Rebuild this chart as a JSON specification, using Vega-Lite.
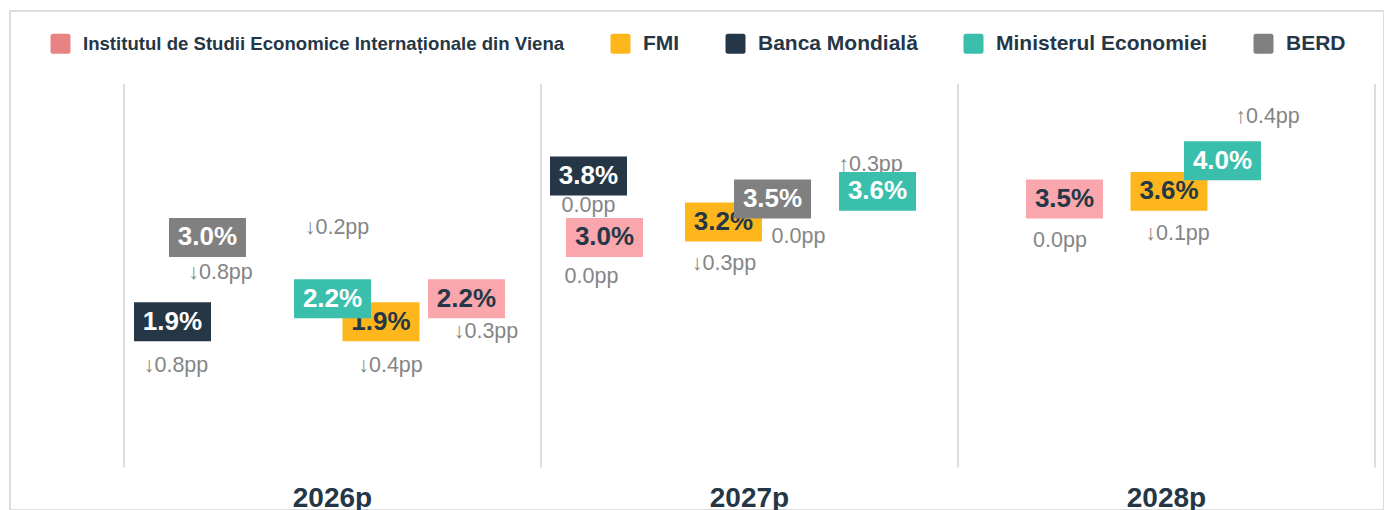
{
  "$schema": "https://vega.github.io/schema/vega-lite/v6.json",
  "width": 1374,
  "height": 499,
  "autosize": {"type": "none"},
  "padding": {"left": 10, "top": 11, "right": 0, "bottom": 0},
  "background": "white",
  "config": {
    "view": {"stroke": "#dddddd", "strokeWidth": 2},
    "font": "Liberation Sans",
    "legend": {
      "orient": "none", "legendX": 40, "legendY": 22, "direction": "horizontal", "columns": 5,
      "symbolType": "M-0.75,-1H0.75Q1,-1,1,-0.75V0.75Q1,1,0.75,1H-0.75Q-1,1,-1,0.75V-0.75Q-1,-1,-0.75,-1Z",
      "symbolSize": 400, "symbolStrokeWidth": 0, "symbolOpacity": 1,
      "labelFont": "Liberation Sans", "labelFontSize": 21, "labelFontWeight": "bold", "labelColor": "#253746",
      "labelLimit": 700, "labelOffset": 12, "columnPadding": 45, "padding": 0
    }
  },
  "data": {
    "values": [
      {"year": "2026p", "source": "Institutul de Studii Economice Internaționale din Viena", "value": 2.2, "j": 0.8213, "delta": "↓0.3pp", "dj": 0.8681, "dv": 1.767},
      {"year": "2026p", "source": "FMI", "value": 1.9, "j": 0.6163, "delta": "↓0.4pp", "dj": 0.6391, "dv": 1.323},
      {"year": "2026p", "source": "Banca Mondială", "value": 1.9, "j": 0.1163, "delta": "↓0.8pp", "dj": 0.1247, "dv": 1.323},
      {"year": "2026p", "source": "Ministerul Economiei", "value": 2.2, "j": 0.5, "delta": "↓0.2pp", "dj": 0.5108, "dv": 3.123},
      {"year": "2026p", "source": "BERD", "value": 3.0, "j": 0.2002, "delta": "↓0.8pp", "dj": 0.2314, "dv": 2.536},
      {"year": "2027p", "source": "Institutul de Studii Economice Internaționale din Viena", "value": 3.0, "j": 0.1523, "delta": "0.0pp", "dj": 0.1211, "dv": 2.484},
      {"year": "2027p", "source": "FMI", "value": 3.2, "j": 0.4376, "delta": "↓0.3pp", "dj": 0.4388, "dv": 2.653},
      {"year": "2027p", "source": "Banca Mondială", "value": 3.8, "j": 0.1139, "delta": "0.0pp", "dj": 0.1139, "dv": 3.403},
      {"year": "2027p", "source": "Ministerul Economiei", "value": 3.6, "j": 0.807, "delta": "↑0.3pp", "dj": 0.7902, "dv": 3.944},
      {"year": "2027p", "source": "BERD", "value": 3.5, "j": 0.5552, "delta": "0.0pp", "dj": 0.6175, "dv": 2.999},
      {"year": "2028p", "source": "Institutul de Studii Economice Internaționale din Viena", "value": 3.5, "j": 0.2554, "delta": "0.0pp", "dj": 0.2446, "dv": 2.953},
      {"year": "2028p", "source": "FMI", "value": 3.6, "j": 0.506, "delta": "↓0.1pp", "dj": 0.5264, "dv": 3.038},
      {"year": "2028p", "source": "Ministerul Economiei", "value": 4.0, "j": 0.6343, "delta": "↑0.4pp", "dj": 0.7422, "dv": 4.576}
    ]
  },
  "transform": [{"calculate": "format(datum.value, '.1f') + '%'", "as": "lbl"}],
  "encoding": {
    "x": {
      "field": "year", "type": "nominal",
      "scale": {"type": "band", "domain": ["2026p", "2027p", "2028p"], "range": [114, 1365], "paddingInner": 0, "paddingOuter": 0},
      "axis": {"orient": "bottom", "offset": -42.5, "domain": false, "ticks": false, "tickSize": 0, "grid": false, "labelPadding": 17, "labelFontSize": 28, "labelFontWeight": "bold", "labelColor": "#253746", "labelFont": "Liberation Sans", "labelAngle": 0, "title": null}
    },
    "stroke": {
      "field": "source", "type": "nominal",
      "scale": {"domain": ["Institutul de Studii Economice Internaționale din Viena", "FMI", "Banca Mondială", "Ministerul Economiei", "BERD"], "range": ["#E88383", "#FDB71C", "#253746", "#3BBFAD", "#808080"]},
      "legend": {"title": null, "encoding": {
        "labels": {"fontSize": {"value": {"expr": "datum.value === 'Institutul de Studii Economice Internaționale din Viena' ? 18.6 : 21"}}},
        "symbols": {"fill": {"value": {"expr": "scale('stroke', datum.value)"}}}
      }}
    }
  },
  "layer": [
    {
      "data": {"values": [{"year": "2026p"}, {"year": "2027p"}, {"year": "2028p"}]},
      "mark": {"type": "rule", "strokeWidth": 2},
      "encoding": {
        "x": {"field": "year", "type": "nominal", "bandPosition": 0},
        "y": {"datum": 0, "type": "quantitative", "scale": {"domain": [0, 5], "range": [456.5, 73]}, "axis": null},
        "y2": {"datum": 5},
        "stroke": {"value": "#dddddd"}
      }
    },
    {
      "data": {"values": [{"year": "2028p"}]},
      "mark": {"type": "rule", "strokeWidth": 2},
      "encoding": {
        "x": {"field": "year", "type": "nominal", "bandPosition": 1},
        "y": {"datum": 0, "type": "quantitative", "scale": {"domain": [0, 5], "range": [456.5, 73]}, "axis": null},
        "y2": {"datum": 5},
        "stroke": {"value": "#dddddd"}
      }
    },
    {
      "mark": {"type": "text", "fontSize": 21.5, "font": "Liberation Sans", "align": "center", "baseline": "middle", "fill": "#858585"},
      "encoding": {
        "xOffset": {"field": "dj", "type": "quantitative", "scale": {"domain": [0, 1]}},
        "y": {"field": "dv", "type": "quantitative", "scale": {"domain": [0, 5], "range": [456.5, 73]}, "axis": null},
        "text": {"field": "delta"},
        "stroke": {"value": null}
      }
    },
    {
      "transform": [{"filter": {"field": "source", "equal": "Institutul de Studii Economice Internaționale din Viena"}}],
      "encoding": {
        "xOffset": {"field": "j", "type": "quantitative", "scale": {"domain": [0, 1]}},
        "y": {"field": "value", "type": "quantitative", "scale": {"domain": [0, 5], "range": [456.5, 73]}, "axis": null}
      },
      "layer": [
        {"mark": {"type": "point", "shape": "M-1,-0.506H1V0.506H-1Z", "size": 5929, "filled": true, "fill": "#F9A7AD", "opacity": 1, "strokeWidth": 0}},
        {"mark": {"type": "text", "fontSize": 26, "fontWeight": "bold", "font": "Liberation Sans", "align": "center", "baseline": "middle", "fill": "#253746"},
         "encoding": {"text": {"field": "lbl"}, "stroke": {"value": null}}}
      ]
    },
    {
      "transform": [{"filter": {"field": "source", "equal": "FMI"}}],
      "encoding": {
        "xOffset": {"field": "j", "type": "quantitative", "scale": {"domain": [0, 1]}},
        "y": {"field": "value", "type": "quantitative", "scale": {"domain": [0, 5], "range": [456.5, 73]}, "axis": null}
      },
      "layer": [
        {"mark": {"type": "point", "shape": "M-1,-0.506H1V0.506H-1Z", "size": 5929, "filled": true, "fill": "#FDB71C", "opacity": 1, "strokeWidth": 0}},
        {"mark": {"type": "text", "fontSize": 26, "fontWeight": "bold", "font": "Liberation Sans", "align": "center", "baseline": "middle", "fill": "#253746"},
         "encoding": {"text": {"field": "lbl"}, "stroke": {"value": null}}}
      ]
    },
    {
      "transform": [{"filter": {"field": "source", "equal": "Banca Mondială"}}],
      "encoding": {
        "xOffset": {"field": "j", "type": "quantitative", "scale": {"domain": [0, 1]}},
        "y": {"field": "value", "type": "quantitative", "scale": {"domain": [0, 5], "range": [456.5, 73]}, "axis": null}
      },
      "layer": [
        {"mark": {"type": "point", "shape": "M-1,-0.506H1V0.506H-1Z", "size": 5929, "filled": true, "fill": "#253746", "opacity": 1, "strokeWidth": 0}},
        {"mark": {"type": "text", "fontSize": 26, "fontWeight": "bold", "font": "Liberation Sans", "align": "center", "baseline": "middle", "fill": "#ffffff"},
         "encoding": {"text": {"field": "lbl"}, "stroke": {"value": null}}}
      ]
    },
    {
      "transform": [{"filter": {"field": "source", "equal": "Ministerul Economiei"}}],
      "encoding": {
        "xOffset": {"field": "j", "type": "quantitative", "scale": {"domain": [0, 1]}},
        "y": {"field": "value", "type": "quantitative", "scale": {"domain": [0, 5], "range": [456.5, 73]}, "axis": null}
      },
      "layer": [
        {"mark": {"type": "point", "shape": "M-1,-0.506H1V0.506H-1Z", "size": 5929, "filled": true, "fill": "#3BBFAD", "opacity": 1, "strokeWidth": 0}},
        {"mark": {"type": "text", "fontSize": 26, "fontWeight": "bold", "font": "Liberation Sans", "align": "center", "baseline": "middle", "fill": "#ffffff"},
         "encoding": {"text": {"field": "lbl"}, "stroke": {"value": null}}}
      ]
    },
    {
      "transform": [{"filter": {"field": "source", "equal": "BERD"}}],
      "encoding": {
        "xOffset": {"field": "j", "type": "quantitative", "scale": {"domain": [0, 1]}},
        "y": {"field": "value", "type": "quantitative", "scale": {"domain": [0, 5], "range": [456.5, 73]}, "axis": null}
      },
      "layer": [
        {"mark": {"type": "point", "shape": "M-1,-0.506H1V0.506H-1Z", "size": 5929, "filled": true, "fill": "#808080", "opacity": 1, "strokeWidth": 0}},
        {"mark": {"type": "text", "fontSize": 26, "fontWeight": "bold", "font": "Liberation Sans", "align": "center", "baseline": "middle", "fill": "#ffffff"},
         "encoding": {"text": {"field": "lbl"}, "stroke": {"value": null}}}
      ]
    }
  ]
}
